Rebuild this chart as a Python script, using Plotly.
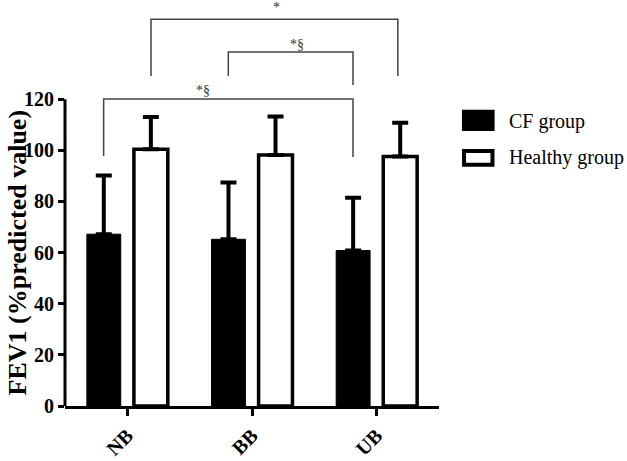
import plotly.graph_objects as go

# ---- data ----
categories = ["NB", "BB", "UB"]
series_names = ["CF group", "Healthy group"]
cf_mean = [67.2, 65.2, 60.8]
cf_err = [22.9, 22.2, 20.6]
healthy_mean = [100.4, 98.2, 97.6]
healthy_err = [12.6, 15.0, 13.2]
y_ticks = [0, 20, 40, 60, 80, 100, 120]
y_title = "FEV1 (%predicted value)"

# significance brackets: left x, right x, top y, left-leg bottom, right-leg bottom, label, label x, label y
brackets = [
    (0.19, 2.17, 151.3, 129.1, 129.1, "*", 1.20, 156.0),
    (0.81, 1.81, 138.4, 129.1, 125.5, "*§", 1.36, 141.5),
    (-0.19, 1.81, 120.1, 97.8, 97.4, "*§", 0.61, 123.5),
]

FONT = "Liberation Serif, Times New Roman, serif"
Y_RANGE_MAX = 158

fig = go.Figure()
fig.add_trace(go.Bar(
    name=series_names[0], x=categories, y=cf_mean,
    marker=dict(color="black", line=dict(color="black", width=1)),
    error_y=dict(type="data", symmetric=False, array=cf_err,
                 arrayminus=[0] * len(cf_err), color="black", thickness=4, width=8),
))
fig.add_trace(go.Bar(
    name=series_names[1], x=categories, y=healthy_mean,
    marker=dict(color="white", line=dict(color="black", width=3.5)),
    error_y=dict(type="data", symmetric=False, array=healthy_err,
                 arrayminus=[0] * len(healthy_err), color="black", thickness=4, width=8),
))

shapes = []
annotations = []
# y axis line only up to the last tick
shapes.append(dict(type="line", xref="paper", yref="y", x0=0, x1=0,
                   y0=y_ticks[0], y1=y_ticks[-1], line=dict(color="black", width=3)))
for (xl, xr, yt, ybl, ybr, lab, lx, ly) in brackets:
    path = f"M {xl},{ybl} L {xl},{yt} L {xr},{yt} L {xr},{ybr}"
    shapes.append(dict(type="path", xref="x", yref="y", path=path,
                       line=dict(color="#444444", width=1.5)))
    annotations.append(dict(x=lx, y=ly, xref="x", yref="y", text=lab, showarrow=False,
                            font=dict(family=FONT, size=14, color="#333333"),
                            xanchor="center", yanchor="middle"))

# y axis title, centred on the visible axis span (0..120)
annotations.append(dict(x=-0.126, y=(y_ticks[0] + y_ticks[-1]) / 2, xref="paper", yref="y",
                        text=f"<b>{y_title}</b>", textangle=-90, showarrow=False,
                        xanchor="center", yanchor="middle",
                        font=dict(family=FONT, size=26, color="black")))

# manual legend (paper coordinates)
shapes.append(dict(type="rect", xref="paper", yref="paper",
                   x0=1.064, x1=1.146, y0=0.683, y1=0.731,
                   fillcolor="black", line=dict(color="black", width=2)))
shapes.append(dict(type="rect", xref="paper", yref="paper",
                   x0=1.067, x1=1.143, y0=0.597, y1=0.631,
                   fillcolor="white", line=dict(color="black", width=4)))
annotations.append(dict(x=1.182, y=0.705, xref="paper", yref="paper", text=series_names[0],
                        showarrow=False, xanchor="left", yanchor="middle",
                        font=dict(family=FONT, size=20, color="black")))
annotations.append(dict(x=1.182, y=0.615, xref="paper", yref="paper", text=series_names[1],
                        showarrow=False, xanchor="left", yanchor="middle",
                        font=dict(family=FONT, size=20, color="black")))

fig.update_layout(
    width=627, height=461,
    margin=dict(l=65, r=188, t=2, b=55),
    paper_bgcolor="white", plot_bgcolor="white",
    barmode="group", bargap=0.245, bargroupgap=0.28,
    showlegend=False,
    shapes=shapes, annotations=annotations,
    font=dict(family=FONT, color="black"),
)
fig.update_xaxes(
    range=[-0.5, 2.5], showline=True, linecolor="black", linewidth=3,
    ticks="outside", ticklen=7, tickwidth=2.5, tickcolor="black",
    tickangle=-45, tickfont=dict(family=FONT, size=20, color="black", weight="bold"),
    showgrid=False, zeroline=False, automargin=False,
)
fig.update_yaxes(
    range=[0, Y_RANGE_MAX], showline=False, tickvals=y_ticks,
    ticks="outside", ticklen=6, tickwidth=2.5, tickcolor="black",
    tickfont=dict(family=FONT, size=20, color="black", weight="bold"),
    showgrid=False, zeroline=False, automargin=False,
)

fig.write_html(
    "out.html",
    config={"displayModeBar": False},
    post_script="document.body.style.margin='0';document.body.style.padding='0';",
)
